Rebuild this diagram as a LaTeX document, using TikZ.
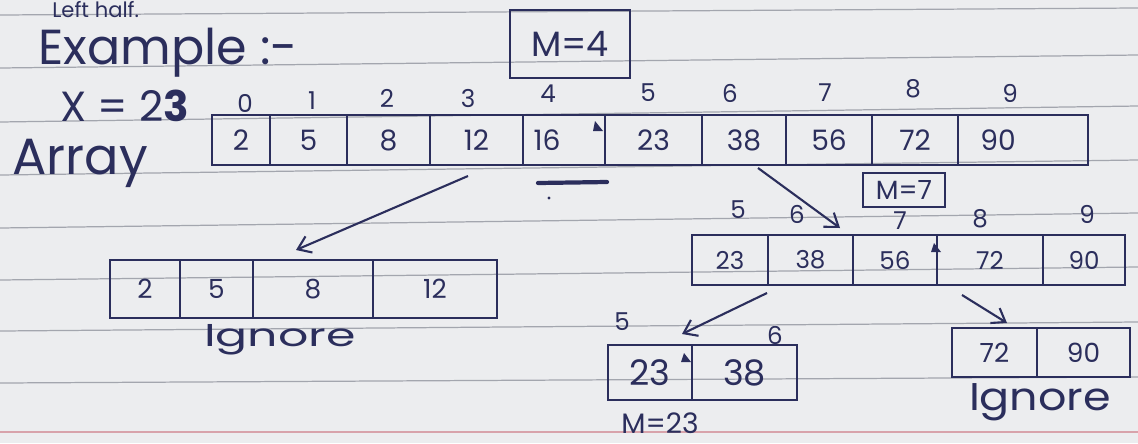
\documentclass[tikz,border=0pt]{standalone}
\usepackage{fontspec}
\usepackage{graphicx}
\setmainfont{Poppins}
\usetikzlibrary{arrows.meta}
\definecolor{ink}{HTML}{2B2E5C}
\definecolor{paper}{HTML}{ECEDEF}
\definecolor{rulecol}{HTML}{A3A6AE}
\definecolor{margincol}{HTML}{D8A3AB}
\begin{document}
\begin{tikzpicture}[x=0.02cm,y=-0.02cm,
  cell/.style={draw=ink, line width=1.2pt, inner sep=0pt, text=ink},
  cw/.style={minimum width=#1*0.02cm},
  ch/.style={minimum height=#1*0.02cm},
  fs/.style={font=\fontsize{#1}{#1}\selectfont},
  idx/.style={text=ink, inner sep=0pt, font=\fontsize{14}{16}\selectfont},
  lbl/.style={text=ink, inner sep=0pt},
  arr/.style={draw=ink, line width=1.2pt, -{Straight Barb[length=7pt,width=10pt]}},
  ruled/.style={draw=rulecol, line width=0.7pt}]
\useasboundingbox (0,0) rectangle (1138,443);
\fill[paper] (0,0) rectangle (1138,443);
% ruled paper
\foreach \l/\r in {15/8,68/55,122/106,175/160,228/213,280/267,331/322,383/377}
  \draw[ruled] (0,\l) -- (1138,\r);
\draw[draw=margincol, line width=0.8pt] (0,432) -- (1138,432);
% heading at the top edge
\node[lbl, fs=12, anchor=north west] (head) at (52,1) {Left half.};
% titles
\node[lbl, fs=28, anchor=west] (ex) at (38,53) {Example :-};
\node[lbl, fs=24, anchor=west] (xval) at (60,106) {X = 2\textbf{3}};
\node[lbl, fs=29, anchor=west] (arrlbl) at (12,163) {Array};
% M=4 box
\node[cell, cw=120, ch=68, fs=20] (m4) at (570,44) {M=4};
% main array
\node[cell,cw=58,ch=50,fs=16] (a0) at (241,140) {2};
\node[cell,cw=77,ch=50,fs=16] (a1) at (308.5,140) {5};
\node[cell,cw=83,ch=50,fs=16] (a2) at (388.5,140) {8};
\node[cell,cw=93,ch=50,fs=16] (a3) at (476.5,140) {12};
\node[cell,cw=82,ch=50,fs=16] (a4) at (564,140) {};
\node[lbl,fs=16] (v4) at (547,140) {16};
\node[cell,cw=97,ch=50,fs=16] (a5) at (653.5,140) {23};
\node[cell,cw=84,ch=50,fs=16] (a6) at (744,140) {38};
\node[cell,cw=86,ch=50,fs=16] (a7) at (829,140) {56};
\node[cell,cw=86,ch=50,fs=16] (a8) at (915,140) {72};
\node[cell,cw=130,ch=50,fs=16] (a9) at (1023,140) {};
\node[lbl,fs=16] (v9) at (998,140) {90};
% indices
\node[idx] (i0) at (245,103) {0};
\node[idx] (i1) at (312,101) {1};
\node[idx] (i2) at (387,98) {2};
\node[idx] (i3) at (468,98) {3};
\node[idx] (i4) at (548,94) {4};
\node[idx] (i5) at (648,93) {5};
\node[idx] (i6) at (730,93) {6};
\node[idx] (i7) at (825,93) {7};
\node[idx] (i8) at (913,89) {8};
\node[idx] (i9) at (1010,93) {9};
% marks
\fill[ink] (595,121) -- (603,131) -- (593,131) -- cycle;
\draw[ink, line width=2.4pt, line cap=round] (538,183) -- (607,182);
\fill[ink] (549,198) circle (1.6);
% arrows
\coordinate (s1) at (468,176); \coordinate (t1) at (296,250);
\coordinate (s2) at (758,168); \coordinate (t2) at (840,228);
\coordinate (s3) at (767,293); \coordinate (t3) at (682,334);
\coordinate (s4) at (962,295); \coordinate (t4) at (1007,323);
\draw[arr] (s1) -- (t1);
\draw[arr] (s2) -- (t2);
\draw[arr] (s3) -- (t3);
\draw[arr] (s4) -- (t4);
% first sub-array (ignored)
\node[cell,cw=70,ch=58,fs=15] (b0) at (145,289) {2};
\node[cell,cw=73,ch=58,fs=15] (b1) at (216.5,289) {5};
\node[cell,cw=120,ch=58,fs=15] (b2) at (313,289) {8};
\node[cell,cw=124,ch=58,fs=15] (b3) at (435,289) {12};
\node[lbl,fs=18] (ign1) at (280,340) {\scalebox{1.5}[1]{Ignore}};
% M=7 box
\node[cell, cw=82, ch=34, fs=15] (m7) at (904,190) {M=7};
% second sub-array
\node[cell,cw=76,ch=50,fs=14] (c0) at (730,260) {23};
\node[cell,cw=85,ch=50,fs=14] (c1) at (810.5,260) {38};
\node[cell,cw=84,ch=50,fs=14] (c2) at (895,260) {56};
\node[cell,cw=106,ch=50,fs=14] (c3) at (990,260) {72};
\node[cell,cw=82,ch=50,fs=14] (c4) at (1084,260) {90};
\node[idx] (j5) at (738,210) {5};
\node[idx] (j6) at (797,214) {6};
\node[idx] (j7) at (900,221) {7};
\node[idx] (j8) at (980,219) {8};
\node[idx] (j9) at (1087,214) {9};
\fill[ink] (934,243) -- (941,252) -- (931,252) -- cycle;
% third sub-array
\node[cell,cw=84,ch=55,fs=20] (d0) at (650,372.5) {23};
\node[cell,cw=105,ch=55,fs=20] (d1) at (744.5,372.5) {38};
\node[idx] (k5) at (622,322) {5};
\node[idx] (k6) at (775,335) {6};
\fill[ink] (684,353) -- (691,362) -- (681,362) -- cycle;
\node[lbl,fs=16] (m23) at (660,423) {M=23};
% fourth sub-array (ignored)
\node[cell,cw=85,ch=49,fs=15] (e0) at (994.5,352.5) {72};
\node[cell,cw=93,ch=49,fs=15] (e1) at (1083.5,352.5) {90};
\node[lbl,fs=22] (ign2) at (1040,402) {\scalebox{1.15}[1]{Ignore}};
\end{tikzpicture}
\end{document}
